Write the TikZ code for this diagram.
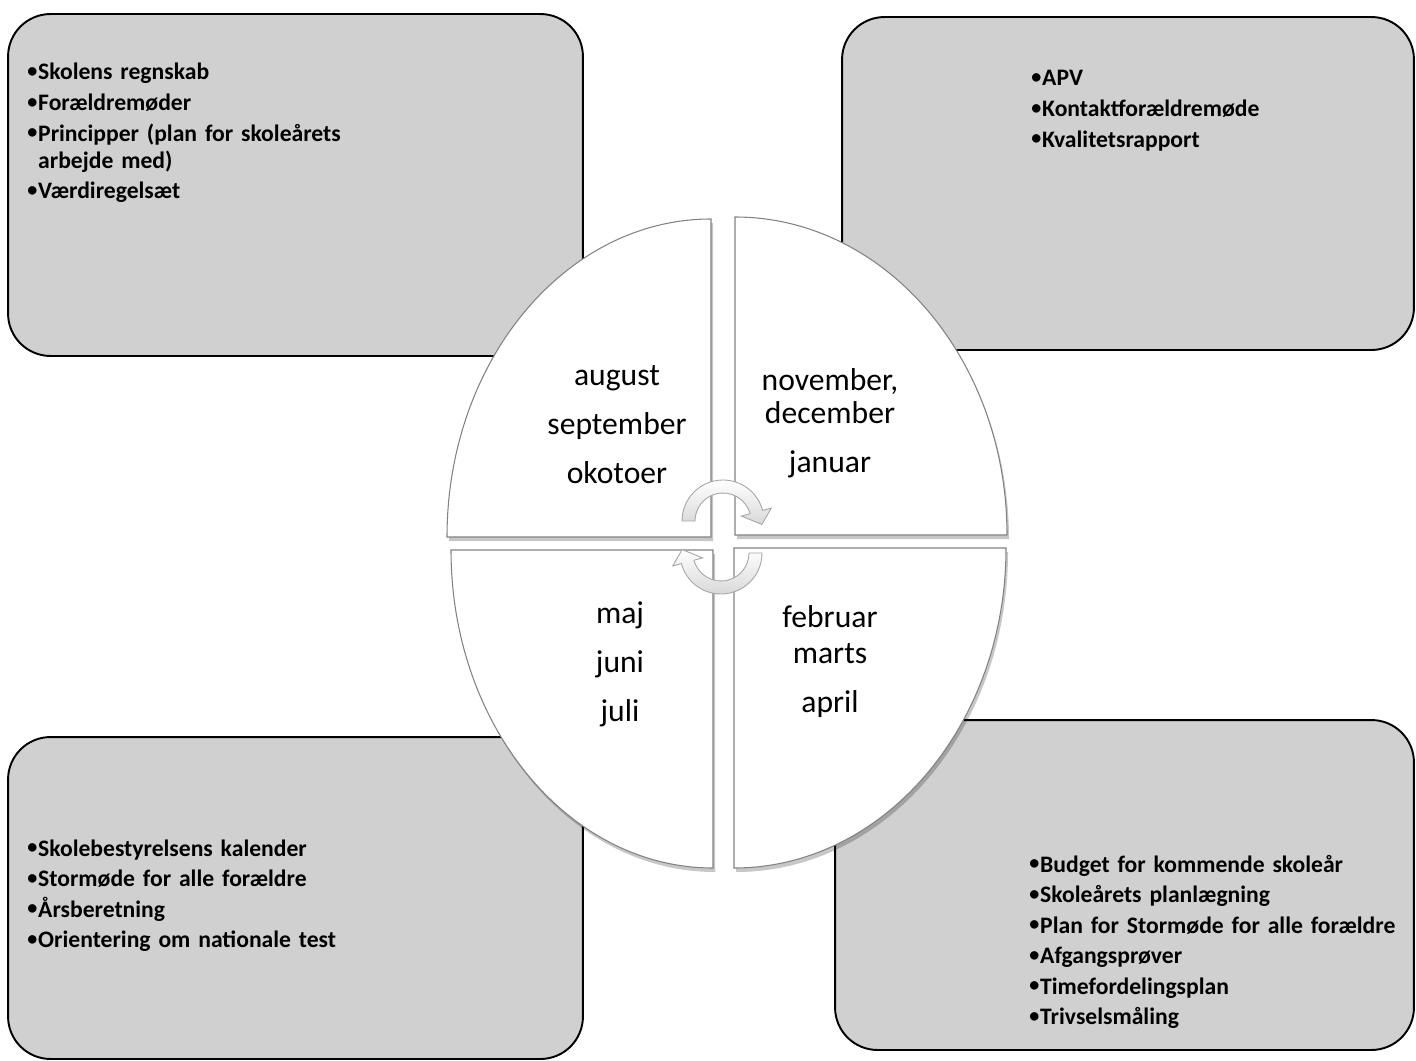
\documentclass[tikz,border=0pt]{standalone}
\usepackage{fontspec}
\setmainfont{Carlito}
\usetikzlibrary{shadows}

\definecolor{panelgray}{RGB}{208,208,208}
\definecolor{rimgray}{RGB}{130,130,130}

% small bullet in front of each panel line
\newcommand{\blt}{\makebox[0.46em][l]{\raisebox{0.1em}{\scalebox{0.85}{•}}}}

\tikzset{
  panel/.style={draw=black, line width=1.1pt, fill=panelgray, rounded corners=0.85cm},
  quarter/.style={draw=rimgray, line width=0.6pt, fill=white,
                  drop shadow={shadow xshift=0.4mm, shadow yshift=-0.8mm, opacity=0.22, fill=black}},
  month/.style={anchor=base, inner sep=0pt, text width=5cm, align=center,
                font=\fontsize{18}{27.9}\selectfont},
  duty/.style={anchor=base west, inner sep=0pt, text width=11cm, align=left,
               font=\fontsize{13.45}{15.4}\selectfont\bfseries},
  cyclearrow/.pic={
    \path[top color=white, bottom color=gray!30, draw=gray!70, line width=0.5pt]
      (180:28) -- (180:41) arc[start angle=180, end angle=15, radius=41]
      -- (15:50) -- (-5:39) -- (15:19) -- (15:28)
      arc[start angle=15, end angle=180, radius=28] -- cycle;
  }
}

\begin{document}
\begin{tikzpicture}[x=0.02cm, y=0.02cm]

\useasboundingbox (0,0) rectangle (1416,-1061);

% Draw the four grey panels
\node [panel, minimum width=11.5cm, minimum height=6.84cm] (tlbox) at (295.5,-185) {};
\node [panel, minimum width=11.44cm, minimum height=6.66cm] (trbox) at (1128,-183.5) {};
\node [panel, minimum width=11.5cm, minimum height=6.44cm] (blbox) at (295.5,-898) {};
\node [panel, minimum width=11.58cm, minimum height=6.6cm] (brbox) at (1124.5,-885) {};

% Panel texts
\node [duty] (tlduties) at (27,-80)
  {\blt Skolens regnskab\\[2pt]\blt Forældremøder\\[2pt]\blt Principper (plan for skoleårets\\\hspace*{0.46em}arbejde med)\\[2pt]\blt Værdiregelsæt};
\node [duty] (trduties) at (1031,-86)
  {\blt APV\\[2pt]\blt Kontaktforældremøde\\[2pt]\blt Kvalitetsrapport};
\node [duty] (blduties) at (27,-856)
  {\blt Skolebestyrelsens kalender\\[2pt]\blt Stormøde for alle forældre\\[2pt]\blt Årsberetning\\[2pt]\blt Orientering om nationale test};
\node [duty] (brduties) at (1029,-872)
  {\blt Budget for kommende skoleår\\[2pt]\blt Skoleårets planlægning\\[2pt]\blt Plan for Stormøde for alle forældre\\[2pt]\blt Afgangsprøver\\[2pt]\blt Timefordelingsplan\\[2pt]\blt Trivselsmåling};

% Year wheel: four quarters of an ellipse
\draw [quarter] (711,-537) -- (711,-219) arc[start angle=90, end angle=180, x radius=264, y radius=318] -- cycle;
\draw [quarter] (735,-535) -- (735,-217) arc[start angle=90, end angle=0, x radius=272, y radius=318] -- cycle;
\draw [quarter] (713,-550) -- (451,-550) arc[start angle=180, end angle=270, x radius=262, y radius=318] -- cycle;
\draw [quarter] (734,-548) -- (1006,-548) arc[start angle=0, end angle=-90, x radius=272, y radius=320] -- cycle;

% Months in each quarter
\node [month] (autumn) at (617,-385) {august\\september\\okotoer};
\node [month] (winter) at (830,-390) {november,\\[-8.6pt]december\\januar};
\node [month] (spring) at (830,-627) {februar\\[-7.4pt]marts\\april};
\node [month] (summer) at (620,-623) {maj\\juni\\juli};

% Circular arrows in the middle
\pic at (723,-521) {cyclearrow};
\pic [rotate=180] at (721,-553) {cyclearrow};

\end{tikzpicture}
\end{document}
